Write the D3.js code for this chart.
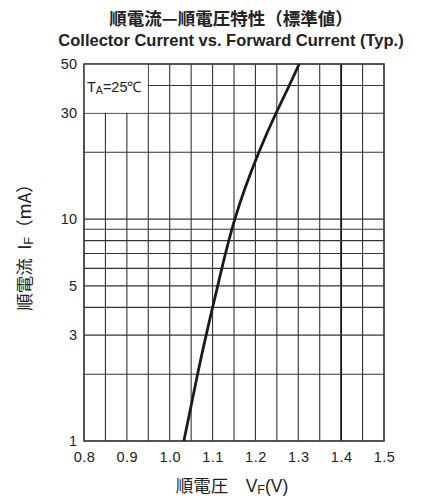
<!DOCTYPE html>
<html>
<head>
<meta charset="utf-8">
<script src="https://cdn.jsdelivr.net/npm/d3@7"></script>
<style>
  html, body { margin: 0; padding: 0; background: #fff; }
  svg { display: block; }
</style>
</head>
<body>
<script>
// Forward current vs. forward voltage, typical curve at TA = 25°C
const forwardCurrent = [1, 2, 3, 4, 5, 10, 20, 30, 40, 50];            // mA
const forwardVoltage = [1.033, 1.065, 1.085, 1.100, 1.112, 1.152, 1.208, 1.248, 1.279, 1.302]; // V

const xTickLabels = [0.8, 0.9, 1.0, 1.1, 1.2, 1.3, 1.4, 1.5];
const xGridValues = [0.8, 0.85, 0.9, 0.95, 1.0, 1.05, 1.1, 1.15, 1.2, 1.25, 1.3, 1.35, 1.4, 1.45, 1.5];
const yTickLabels = [1, 3, 5, 10, 30, 50];
const yGridValues = [1, 2, 3, 4, 5, 6, 7, 8, 9, 10, 20, 30, 40, 50];

const W = 425, H = 500;
const plot = { left: 84, right: 384, top: 64, bottom: 441 };

const svg = d3.select("body").append("svg")
  .attr("width", W).attr("height", H);

const x = d3.scaleLinear().domain([0.8, 1.5]).range([plot.left, plot.right]);
const y = d3.scaleLog().domain([1, 50]).range([plot.bottom, plot.top]);

const cjk = "'Noto Sans CJK JP', 'Noto Sans', sans-serif";
const latin = "'Liberation Sans', Arial, Helvetica, sans-serif";

// Titles
svg.append("text")
  .attr("x", 231).attr("y", 25)
  .attr("text-anchor", "middle")
  .attr("font-family", cjk).attr("font-weight", 700).attr("font-size", 17.5)
  .attr("fill", "#222")
  .text("順電流—順電圧特性（標準値）");

svg.append("text")
  .attr("x", 231).attr("y", 46)
  .attr("text-anchor", "middle")
  .attr("font-family", latin).attr("font-weight", 700).attr("font-size", 16.5)
  .attr("fill", "#222")
  .text("Collector Current vs. Forward Current (Typ.)");

// Grid
const grid = svg.append("g");
grid.selectAll("line.v").data(xGridValues).enter().append("line")
  .attr("class", "v")
  .attr("x1", d => x(d)).attr("x2", d => x(d))
  .attr("y1", plot.top).attr("y2", plot.bottom)
  .attr("stroke", d => Math.abs(d - 1.4) < 1e-9 ? "#111" : "#333")
  .attr("stroke-width", d => Math.abs(d - 1.4) < 1e-9 ? 1.8 : 1.1);

grid.selectAll("line.h").data(yGridValues).enter().append("line")
  .attr("class", "h")
  .attr("x1", plot.left).attr("x2", plot.right)
  .attr("y1", d => y(d)).attr("y2", d => y(d))
  .attr("stroke", "#333").attr("stroke-width", 1.1);

// Condition box (covers the grid in the top-left corner)
svg.append("rect")
  .attr("x", plot.left).attr("y", plot.top)
  .attr("width", x(0.95) - plot.left - 0.6)
  .attr("height", y(30) - plot.top - 0.6)
  .attr("fill", "#fff");

const ta = svg.append("text")
  .attr("x", 87).attr("y", 92)
  .attr("font-family", latin).attr("font-size", 14.5)
  .attr("fill", "#222");
ta.append("tspan").text("T");
ta.append("tspan").attr("font-size", 10.5).attr("dy", 2).text("A");
ta.append("tspan").attr("dy", -2).text("=25℃");

// Frame
svg.append("rect")
  .attr("x", plot.left).attr("y", plot.top)
  .attr("width", plot.right - plot.left).attr("height", plot.bottom - plot.top)
  .attr("fill", "none").attr("stroke", "#444").attr("stroke-width", 1.6);

// Curve
const line = d3.line()
  .x(d => x(d[1]))
  .y(d => y(d[0]))
  .curve(d3.curveNatural);

svg.append("path")
  .datum(forwardCurrent.map((c, i) => [c, forwardVoltage[i]]))
  .attr("d", line)
  .attr("fill", "none")
  .attr("stroke", "#1a1a1a")
  .attr("stroke-width", 2.8);

// Axis tick labels
const xAxis = d3.axisBottom(x).tickValues(xTickLabels).tickSize(0).tickPadding(0)
  .tickFormat(d3.format(".1f"));
const gx = svg.append("g").attr("transform", `translate(0,${plot.bottom + 11})`).call(xAxis);
gx.select(".domain").remove();
gx.selectAll("text")
  .attr("font-family", latin).attr("font-size", 14.5).attr("fill", "#222")
  .attr("letter-spacing", 0.5);

const yAxis = d3.axisLeft(y).tickValues(yTickLabels).tickSize(0).tickPadding(0)
  .tickFormat(d3.format("d"));
const gy = svg.append("g").attr("transform", `translate(${plot.left - 7},0)`).call(yAxis);
gy.select(".domain").remove();
gy.selectAll("text")
  .attr("font-family", latin).attr("font-size", 14.5).attr("fill", "#222");

// Axis titles
const xt = svg.append("text")
  .attr("x", 232).attr("y", 492)
  .attr("text-anchor", "middle")
  .attr("font-family", cjk).attr("font-size", 17.5).attr("fill", "#222");
xt.append("tspan").text("順電圧\u3000");
xt.append("tspan").attr("font-family", latin).text("V");
xt.append("tspan").attr("font-family", latin).attr("font-size", 12.5).attr("dy", 2).text("F");
xt.append("tspan").attr("font-family", latin).attr("dy", -2).text("(V)");

const yt = svg.append("text")
  .attr("transform", "translate(31,243) rotate(-90)")
  .attr("text-anchor", "middle")
  .attr("font-family", cjk).attr("font-size", 17.5).attr("fill", "#222");
yt.append("tspan").text("順電流\u2002");
yt.append("tspan").attr("font-family", latin).text("I");
yt.append("tspan").attr("font-family", latin).attr("font-size", 12.5).attr("dy", 2).text("F");
yt.append("tspan").attr("dy", -2).text("（mA）");
</script>
</body>
</html>
